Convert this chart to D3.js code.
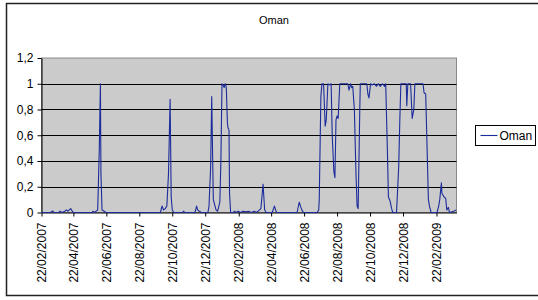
<!DOCTYPE html>
<html>
<head>
<meta charset="utf-8">
<script src="https://cdn.jsdelivr.net/npm/d3@7"></script>
<style>
  body { margin: 0; background: #fff; }
  text { font-family: "Liberation Sans", Arial, sans-serif; fill: #000; }
</style>
</head>
<body>
<div id="chart"></div>
<script>
const seriesName = "Oman";

// points (date, value)
const dates = [
  "2007-02-22","2007-03-10","2007-03-15","2007-03-17","2007-03-26","2007-03-28","2007-04-01","2007-04-06",
  "2007-04-09","2007-04-12","2007-04-17","2007-04-20","2007-04-22","2007-05-27","2007-05-28","2007-05-31",
  "2007-06-06","2007-06-09","2007-06-11","2007-06-12","2007-06-14","2007-06-18","2007-06-21","2007-09-30",
  "2007-10-03","2007-10-06","2007-10-09","2007-10-12","2007-10-15","2007-10-18","2007-10-20","2007-10-22",
  "2007-10-25","2007-11-10","2007-11-12","2007-11-14","2007-12-03","2007-12-06","2007-12-08","2007-12-11",
  "2007-12-15","2007-12-27","2007-12-29","2008-01-01","2008-01-03","2008-01-05","2008-01-06","2008-01-11",
  "2008-01-14","2008-01-18","2008-01-20","2008-01-22","2008-01-24","2008-01-26","2008-01-28","2008-01-30",
  "2008-02-01","2008-02-02","2008-02-04","2008-02-05","2008-02-07","2008-02-12","2008-02-14","2008-02-17",
  "2008-02-21","2008-02-25","2008-03-01","2008-03-07","2008-03-11","2008-03-16","2008-03-22","2008-03-25",
  "2008-03-29","2008-04-03","2008-04-07","2008-04-10","2008-04-13","2008-04-24","2008-04-28","2008-05-01",
  "2008-05-03","2008-06-09","2008-06-13","2008-06-16","2008-06-19","2008-06-21","2008-07-16","2008-07-19",
  "2008-07-20","2008-07-23","2008-07-25","2008-07-28","2008-07-31","2008-08-02","2008-08-05","2008-08-08",
  "2008-08-11","2008-08-13","2008-08-16","2008-08-18","2008-08-20","2008-08-22","2008-08-24","2008-08-27",
  "2008-09-11","2008-09-13","2008-09-16","2008-09-18","2008-09-20","2008-09-23","2008-09-26","2008-09-28",
  "2008-09-30","2008-10-03","2008-10-04","2008-10-16","2008-10-18","2008-10-20","2008-10-23","2008-10-26",
  "2008-10-30","2008-11-03","2008-11-06","2008-11-10","2008-11-14","2008-11-18","2008-11-20","2008-11-23",
  "2008-11-25","2008-11-28","2008-12-01","2008-12-03","2008-12-10","2008-12-14","2008-12-16","2008-12-18",
  "2008-12-28","2008-12-29","2008-12-31","2009-01-05","2009-01-08","2009-01-11","2009-01-13","2009-01-28",
  "2009-01-30","2009-02-02","2009-02-07","2009-02-09","2009-02-12","2009-02-23","2009-02-26","2009-02-28",
  "2009-03-03","2009-03-04","2009-03-08","2009-03-11","2009-03-13","2009-03-16","2009-03-18","2009-03-26",
  "2009-03-30"
];
const values = [
  0, 0, 0.012, 0, 0, 0.01, 0, 0.01,
  0.02, 0.01, 0.03, 0.01, 0, 0, 0.01, 0,
  0.02, 0.5, 1.0, 0.3, 0.02, 0.01, 0, 0,
  0.05, 0.02, 0.03, 0.05, 0.3, 0.88, 0.12, 0.02,
  0, 0, 0.01, 0, 0, 0.05, 0.02, 0.01,
  0, 0, 0.05, 0.35, 0.9, 0.35, 0.1, 0.02,
  0.01, 0.08, 0.4, 1.0, 0.99, 0.97, 1.0, 0.97,
  0.7, 0.66, 0.64, 0.15, 0, 0, 0.01, 0,
  0.01, 0, 0.01, 0.005, 0.01, 0, 0.01, 0,
  0.01, 0.03, 0.22, 0.02, 0, 0, 0.05, 0.01,
  0, 0, 0.08, 0.04, 0.01, 0, 0, 0.02,
  0.1, 0.9, 1.0, 1.0, 0.67, 0.72, 1.0, 0.99,
  1.0, 0.6, 0.32, 0.27, 0.72, 0.75, 0.73, 1.0,
  1.0, 0.95, 1.0, 0.97, 0.98, 0.8, 0.3, 0.05,
  0.03, 0.8, 1.0, 1.0, 0.92, 0.89, 1.0, 0.99,
  1.0, 0.98, 1.0, 0.98, 1.0, 0.98, 1.0, 0.5,
  0.12, 0.09, 0.03, 0, 0, 0.35, 0.7, 1.0,
  1.0, 0.83, 1.0, 1.0, 0.73, 0.8, 1.0, 1.0,
  0.93, 0.92, 0.1, 0.05, 0, 0, 0.05, 0.1,
  0.23, 0.15, 0.12, 0.11, 0.02, 0.04, 0, 0.01,
  0.02
];
const yTicks = [0, 0.2, 0.4, 0.6, 0.8, 1, 1.2];
const xTicks = [
  "2007-02-22","2007-04-22","2007-06-22","2007-08-22","2007-10-22","2007-12-22",
  "2008-02-22","2008-04-22","2008-06-22","2008-08-22","2008-10-22","2008-12-22","2009-02-22"
];

const parse = d3.timeParse("%Y-%m-%d");
const data = dates.map((d, i) => ({ date: parse(d), value: values[i] }));

const width = 538, height = 300;
const plot = { left: 41.5, right: 456.5, top: 58, bottom: 212.5 };

const svg = d3.select("#chart").append("svg")
  .attr("width", width)
  .attr("height", height);

// outer frame
svg.append("rect")
  .attr("x", 6.5).attr("y", 3.5)
  .attr("width", 540).attr("height", 292)
  .attr("fill", "#fff")
  .attr("stroke", "#222")
  .attr("stroke-width", 1.5);

const x = d3.scaleTime()
  .domain([parse("2007-02-22"), parse("2009-03-31")])
  .range([plot.left, plot.right]);
const y = d3.scaleLinear()
  .domain([0, 1.2])
  .range([plot.bottom, plot.top]);

svg.append("text")
  .attr("x", 274).attr("y", 24)
  .attr("text-anchor", "middle")
  .style("font-size", "11px")
  .text(seriesName);

// plot area
svg.append("rect")
  .attr("x", plot.left).attr("y", plot.top)
  .attr("width", plot.right - plot.left)
  .attr("height", plot.bottom - plot.top)
  .attr("fill", "#cbcbcb")
  .attr("stroke", "#8a8a8a")
  .attr("stroke-width", 1);

// gridlines
svg.append("g")
  .selectAll("line")
  .data(yTicks.filter(t => t > 0 && t < 1.2))
  .enter().append("line")
  .attr("x1", plot.left).attr("x2", plot.right)
  .attr("y1", d => Math.round(y(d)) + 0.5)
  .attr("y2", d => Math.round(y(d)) + 0.5)
  .attr("stroke", "#000")
  .attr("stroke-width", 1);

// y axis
const yAxis = svg.append("g")
  .attr("transform", `translate(${plot.left},0)`)
  .call(d3.axisLeft(y)
    .tickValues(yTicks)
    .tickSize(4)
    .tickSizeOuter(0)
    .tickPadding(4)
    .tickFormat(d => d3.format("~g")(d).replace(".", ",")));
yAxis.selectAll("text").style("font-size", "12px");

// x axis
const xAxis = svg.append("g")
  .attr("transform", `translate(0,${plot.bottom})`)
  .call(d3.axisBottom(x)
    .tickValues(xTicks.map(parse))
    .tickSize(4)
    .tickSizeOuter(0)
    .tickFormat(d3.timeFormat("%d/%m/%Y")));
xAxis.selectAll("text")
  .style("font-size", "12px")
  .attr("transform", "rotate(-90)")
  .attr("text-anchor", "end")
  .attr("x", -10)
  .attr("y", 0)
  .attr("dy", "0.35em");
xAxis.select(".domain").attr("stroke", "#000");
yAxis.select(".domain").attr("stroke", "#000");

// series line
const line = d3.line()
  .x(d => x(d.date))
  .y(d => y(d.value));

svg.append("path")
  .datum(data)
  .attr("fill", "none")
  .attr("stroke", "#1c2c9c")
  .attr("stroke-width", 1.1)
  .attr("stroke-linejoin", "round")
  .attr("d", line);

// legend
const legend = svg.append("g").attr("transform", "translate(475.5,125.5)");
legend.append("rect")
  .attr("width", 60).attr("height", 20)
  .attr("fill", "#fff")
  .attr("stroke", "#000");
legend.append("line")
  .attr("x1", 5).attr("x2", 22)
  .attr("y1", 10).attr("y2", 10)
  .attr("stroke", "#1c2c9c")
  .attr("stroke-width", 1.1);
legend.append("text")
  .attr("x", 24).attr("y", 14.5)
  .style("font-size", "12px")
  .text(seriesName);
</script>
</body>
</html>
